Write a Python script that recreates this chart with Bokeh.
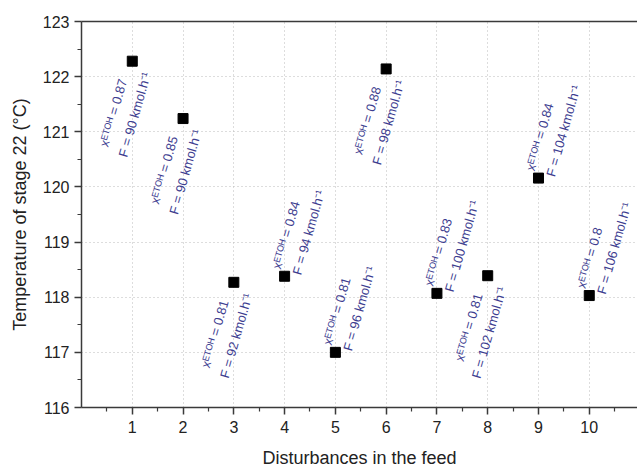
import math
from bokeh.plotting import figure
from bokeh.models import Range1d, FixedTicker, LinearAxis, ColumnDataSource
from bokeh.embed import file_html
from bokeh.resources import INLINE
from bokeh.core.properties import value

# ---- data ----
disturbance = [1, 2, 3, 4, 5, 6, 7, 8, 9, 10]
temperature = [122.28, 121.24, 118.27, 118.38, 117.0, 122.14, 118.07, 118.39, 120.16, 118.03]
x_etoh = ["0.87", "0.85", "0.81", "0.84", "0.81", "0.88", "0.83", "0.81", "0.84", "0.8"]
feed_flow = [90, 90, 92, 94, 96, 98, 100, 102, 104, 106]
label_side = ["below", "below", "below", "above", "above", "below", "above", "below", "above", "above"]
x_ticks = [1, 2, 3, 4, 5, 6, 7, 8, 9, 10]
y_ticks = [116, 117, 118, 119, 120, 121, 122, 123]

FONT = "Liberation Sans"
AXIS_COLOR = "#3a3a3a"
ANN_COLOR = "#3d3d90"

p = figure(width=637, height=470, output_backend="svg", toolbar_location=None,
           x_range=Range1d(0, 10.95), y_range=Range1d(116, 123),
           min_border_left=81, min_border_right=0, min_border_top=21, min_border_bottom=60,
           background_fill_color="white", border_fill_color="white")
p.outline_line_color = None

x_minor = [t - 0.5 for t in x_ticks] + [x_ticks[-1] + 0.5]
y_minor = [t + 0.5 for t in y_ticks[:-1]]

for ax, ticks, minor in ((p.xaxis[0], x_ticks, x_minor), (p.yaxis[0], y_ticks, y_minor)):
    ax.ticker = FixedTicker(ticks=ticks, minor_ticks=minor)
    ax.axis_line_color = AXIS_COLOR
    ax.axis_line_width = 1.5
    ax.major_tick_line_color = AXIS_COLOR
    ax.major_tick_line_width = 1.5
    ax.minor_tick_line_color = AXIS_COLOR
    ax.minor_tick_line_width = 1.2
    ax.major_tick_in = 0
    ax.major_tick_out = 7
    ax.minor_tick_in = 0
    ax.minor_tick_out = 4
    ax.major_label_text_font = FONT
    ax.major_label_text_font_size = "16px"
    ax.major_label_text_color = "#222222"
    ax.axis_label_text_font = FONT
    ax.axis_label_text_font_size = "18px"
    ax.axis_label_text_font_style = "normal"
    ax.axis_label_text_color = "#222222"

p.xaxis.axis_label = "Disturbances in the feed"
p.yaxis.axis_label = "Temperature of stage 22 (°C)"
p.xaxis.major_label_standoff = 6
p.xaxis.axis_label_standoff = 12
p.yaxis.major_label_standoff = 5
p.yaxis.axis_label_standoff = 10

top_axis = LinearAxis(ticker=FixedTicker(ticks=[]), axis_line_color=AXIS_COLOR, axis_line_width=1.5,
                      major_tick_line_color=None, minor_tick_line_color=None,
                      major_label_text_font_size="0px")
p.add_layout(top_axis, "above")

for g in (p.xgrid[0], p.ygrid[0]):
    g.grid_line_color = "#bbbbbb"
    g.grid_line_dash = "1 3"
    g.grid_line_width = 1
p.xgrid.ticker = FixedTicker(ticks=x_ticks)
p.ygrid.ticker = FixedTicker(ticks=y_ticks)

p.scatter(disturbance, temperature, marker="square", size=10, color="black")

# ---- rotated two-line annotations ----
theta = math.radians(74)
ux, uy = math.cos(theta), -math.sin(theta)   # along text, screen y down
vx, vy = math.sin(theta), math.cos(theta)    # perpendicular (text "down")

rows = {"x": [], "y": [], "text": [], "xo": [], "yo": [], "align": []}
for xi, yi, xe, ff, side in zip(disturbance, temperature, x_etoh, feed_flow, label_side):
    line1 = "x\u1d31\u1d40\u1d3c\u1d34 = " + xe
    line2 = "F = %d kmol.h\u207b\u00b9" % ff
    if side == "above":
        specs = [(line1, 5, -10, "left"), (line2, 5, 11, "left")]
    else:
        specs = [(line1, -20, -4, "right"), (line2, -7, 17, "right")]
    for txt, a, b, al in specs:
        rows["x"].append(xi)
        rows["y"].append(yi)
        rows["text"].append(txt)
        rows["xo"].append(a * ux + b * vx)
        rows["yo"].append(a * uy + b * vy)
        rows["align"].append(al)

src = ColumnDataSource(rows)
p.text(x="x", y="y", text="text", x_offset="xo", y_offset="yo", text_align="align",
       source=src, angle=theta, text_baseline="middle",
       text_font=value(FONT), text_font_size="13px", text_font_style="normal",
       text_color=ANN_COLOR)

open("out.html", "w").write(file_html(p, INLINE))
